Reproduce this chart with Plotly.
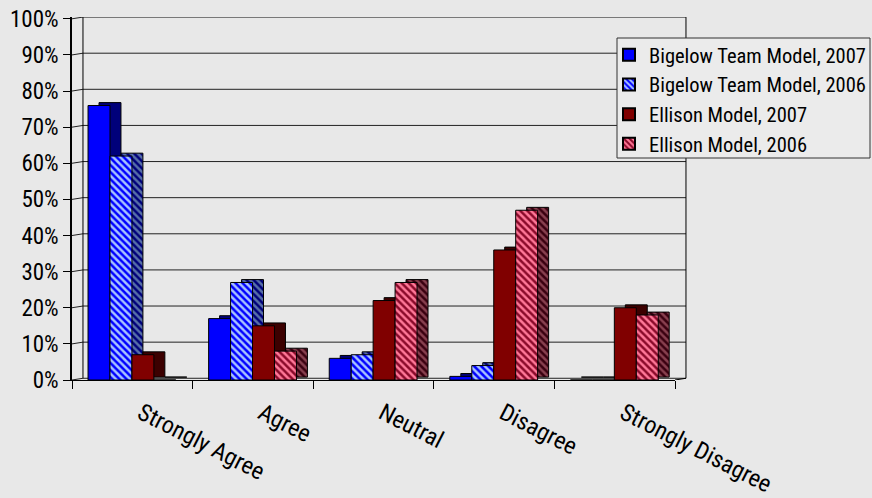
import plotly.graph_objects as go

categories = ["Strongly Agree", "Agree", "Neutral", "Disagree", "Strongly Disagree"]
bigelow_2007 = [76, 17, 6, 1, 0]
bigelow_2006 = [62, 27, 7, 4, 0]
ellison_2007 = [7, 15, 22, 36, 20]
ellison_2006 = [0, 8, 27, 47, 18]
series_names = ["Bigelow Team Model, 2007", "Bigelow Team Model, 2006",
                "Ellison Model, 2007", "Ellison Model, 2006"]
y_ticks = [0, 10, 20, 30, 40, 50, 60, 70, 80, 90, 100]
y_tick_labels = [f"{v}%" for v in y_ticks]

FONT = "Roboto Condensed, Liberation Sans Narrow, Arial Narrow, sans-serif"
BG = "#E8E8E8"

styles = [
    dict(front="#0000FF", fpat=None, side="#00007A", spat=None),
    dict(front="#0000FF", fpat="#A8C4FF", side="#00007A", spat="#5870A8"),
    dict(front="#800000", fpat=None, side="#3C0000", spat=None),
    dict(front="#FF7898", fpat="#8A0A2A", side="#88404F", spat="#3A0010"),
]
series_values = [bigelow_2007, bigelow_2006, ellison_2007, ellison_2006]

BAR_W = 0.182          # width of a bar in category units
GROUP_START = -0.367   # offset of first bar from the category centre
DEPTH_X = 0.091        # 3-D depth, category units
DEPTH_Y = 0.8          # 3-D depth, percent units


def marker_for(color, pat):
    m = dict(color=color, line=dict(color="#000000", width=1))
    if pat:
        m["pattern"] = dict(shape="\\", fgcolor=pat, bgcolor=color, size=5,
                            solidity=0.5, fillmode="replace")
    return m


fig = go.Figure()
# side/top faces (drawn first, behind)
for k, (vals, st) in enumerate(zip(series_values, styles)):
    fig.add_trace(go.Bar(x=categories, y=vals, base=DEPTH_Y,
                         offset=GROUP_START + k * BAR_W + DEPTH_X, width=BAR_W,
                         marker=marker_for(st["side"], st["spat"]),
                         showlegend=False, hoverinfo="skip"))
# front faces
for k, (vals, st, name) in enumerate(zip(series_values, styles, series_names)):
    fig.add_trace(go.Bar(name=name, x=categories, y=vals,
                         offset=GROUP_START + k * BAR_W, width=BAR_W,
                         marker=marker_for(st["front"], st["fpat"])))

# back wall, side wall and floor lines
X_BACK0 = DEPTH_X / len(categories)
WALL_DY = DEPTH_Y * 0.6
for v in y_ticks:
    fig.add_shape(type="path", xref="paper", yref="y",
                  path=f"M 0,{v} L {X_BACK0},{v + WALL_DY} L {1 + X_BACK0},{v + WALL_DY}",
                  line=dict(color="#222222", width=1), layer="below")
fig.add_shape(type="line", xref="paper", yref="y", x0=X_BACK0, x1=X_BACK0,
              y0=WALL_DY, y1=100 + WALL_DY, line=dict(color="#000000", width=1), layer="below")
fig.add_shape(type="line", xref="paper", yref="y", x0=1 + X_BACK0, x1=1 + X_BACK0,
              y0=WALL_DY, y1=100 + WALL_DY, line=dict(color="#000000", width=1), layer="below")
fig.add_shape(type="line", xref="paper", yref="y", x0=1, x1=1 + X_BACK0,
              y0=0, y1=WALL_DY, line=dict(color="#000000", width=1), layer="below")

# legend frame (pixel box 617..870 x 38..158)
PW, PH, PL, PB = 603, 363, 72, 380
fig.add_shape(type="rect", xref="paper", yref="paper", layer="above",
              x0=(617 - PL) / PW, x1=(870 - PL) / PW,
              y0=(PB - 158) / PH, y1=(PB - 38) / PH,
              fillcolor="#EBEBEB", line=dict(color="#333333", width=1))

fig.update_layout(
    width=872, height=498,
    margin=dict(l=72, r=197, t=17, b=118, autoexpand=False),
    paper_bgcolor=BG, plot_bgcolor=BG,
    barmode="overlay",
    font=dict(family=FONT, size=16, color="#000000"),
    showlegend=True,
    legend=dict(x=(609 - PL) / PW, y=(PB - 35) / PH, xanchor="left", yanchor="top",
                bgcolor="rgba(0,0,0,0)", borderwidth=0,
                font=dict(family=FONT, size=20.5, color="#000000"),
                itemsizing="constant"),
    xaxis=dict(tickangle=27, tickson="boundaries", ticks="outside", ticklen=8,
               tickcolor="#000000", showline=True, linecolor="#000000", linewidth=1,
               showgrid=False, ticklabelstandoff=9, ticklabelshift=9, automargin=False,
               tickfont=dict(family=FONT, size=24, color="#000000")),
    yaxis=dict(range=[0, 100.5], tickvals=y_ticks, ticktext=y_tick_labels,
               ticks="outside", ticklen=7, tickcolor="#000000",
               showline=True, linecolor="#000000", linewidth=1.5,
               showgrid=False, zeroline=False, automargin=False,
               tickfont=dict(family=FONT, size=23, color="#000000")),
)
fig.write_html("out.html")
